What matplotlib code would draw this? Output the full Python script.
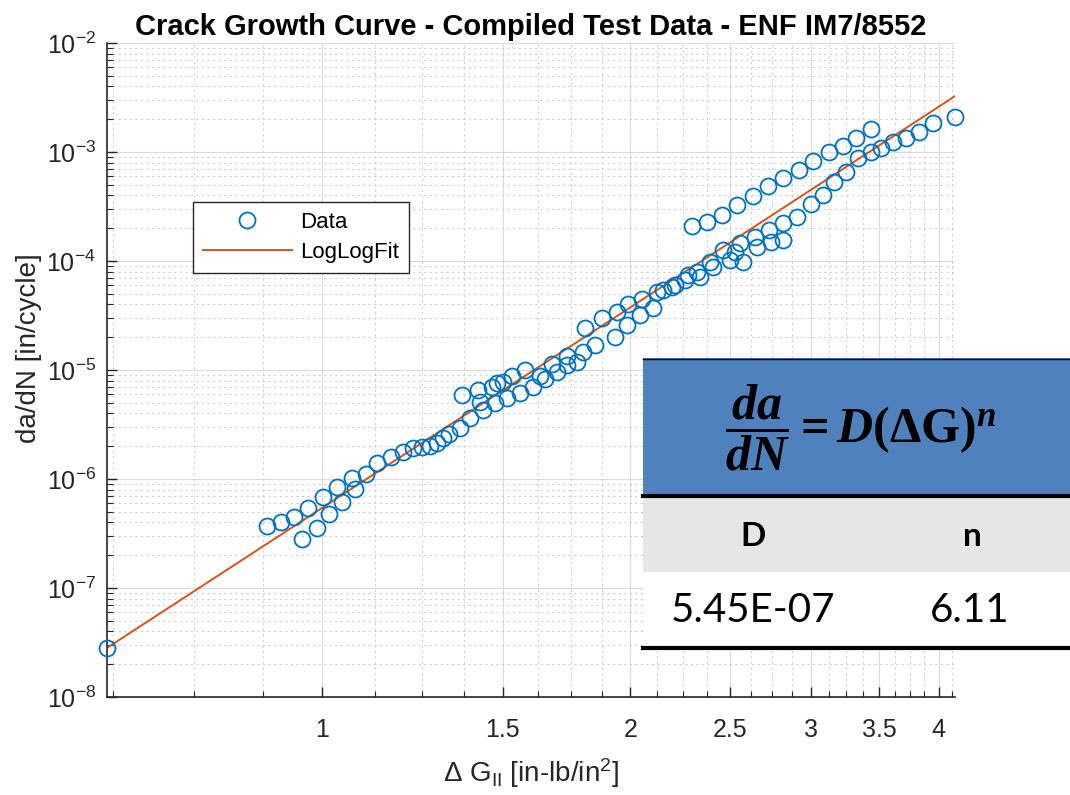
import numpy as np
import matplotlib
matplotlib.use("Agg")
import matplotlib.pyplot as plt
from matplotlib.ticker import FixedLocator, NullFormatter, LogLocator
from matplotlib.patches import Rectangle
from matplotlib.lines import Line2D

plt.rcParams['font.family'] = ['Liberation Sans', 'DejaVu Sans']
plt.rcParams['mathtext.default'] = 'regular'
# serif bold set used only by the equation in the results box
plt.rcParams['mathtext.rm'] = 'Liberation Serif:bold'
plt.rcParams['mathtext.it'] = 'Liberation Serif:italic:bold'
plt.rcParams['mathtext.bf'] = 'Liberation Serif:bold'

# compiled ENF test data: delta G_II [in-lb/in^2] vs da/dN [in/cycle]
dG = [0.616, 0.883, 0.912, 0.939, 0.956, 0.969, 0.987, 1.002, 1.014, 1.034,
      1.046, 1.068, 1.075, 1.102, 1.132, 1.168, 1.198, 1.225, 1.250, 1.273,
      1.293, 1.311, 1.331, 1.362, 1.393, 1.368, 1.419, 1.425, 1.434, 1.464,
      1.480, 1.501, 1.474, 1.514, 1.531, 1.559, 1.577, 1.606, 1.632, 1.650,
      1.676, 1.695, 1.734, 1.734, 1.774, 1.798, 1.806, 1.876, 1.847, 1.932,
      1.941, 1.985, 1.989, 2.045, 2.053, 2.105, 2.124, 2.153, 2.197, 2.212,
      2.262, 2.278, 2.324, 2.340, 2.393, 2.410, 2.465, 2.504, 2.532, 2.578,
      2.561, 2.649, 2.661, 2.729, 2.741, 2.817, 2.817, 2.912, 2.999, 3.082,
      3.159, 3.246, 3.334, 3.434, 3.513, 3.609, 3.715, 3.826, 3.949, 4.150,
      2.298, 2.377, 2.459, 2.544, 2.632, 2.722, 2.817, 2.919, 3.012, 3.124,
      3.223, 3.320, 3.434]
dadN = [2.82e-8, 3.71e-7, 4.04e-7, 4.48e-7, 2.82e-7, 5.42e-7, 3.55e-7, 6.84e-7, 4.78e-7, 8.45e-7,
        6.15e-7, 1.02e-6, 8.09e-7, 1.11e-6, 1.40e-6, 1.59e-6, 1.77e-6, 1.92e-6, 1.97e-6, 2.01e-6,
        2.14e-6, 2.38e-6, 2.59e-6, 2.94e-6, 3.63e-6, 5.90e-6, 6.56e-6, 5.08e-6, 4.30e-6, 6.98e-6,
        7.60e-6, 7.76e-6, 4.98e-6, 5.53e-6, 8.81e-6, 6.15e-6, 1.00e-5, 6.98e-6, 8.81e-6, 8.26e-6,
        1.14e-5, 9.59e-6, 1.11e-5, 1.34e-5, 1.18e-5, 1.46e-5, 2.43e-5, 3.00e-5, 1.69e-5, 2.01e-5,
        3.40e-5, 2.59e-5, 4.04e-5, 3.20e-5, 4.48e-5, 3.71e-5, 5.20e-5, 5.42e-5, 5.77e-5, 6.03e-5,
        6.70e-5, 7.45e-5, 7.93e-5, 7.13e-5, 9.79e-5, 8.81e-5, 1.26e-4, 1.02e-4, 1.21e-4, 9.79e-5,
        1.46e-4, 1.66e-4, 1.34e-4, 1.92e-4, 1.49e-4, 2.23e-4, 1.56e-4, 2.54e-4, 3.33e-4, 4.04e-4,
        5.31e-4, 6.56e-4, 8.81e-4, 1.00e-3, 1.09e-3, 1.24e-3, 1.34e-3, 1.52e-3, 1.85e-3, 2.09e-3,
        2.09e-4, 2.28e-4, 2.64e-4, 3.27e-4, 3.94e-4, 4.88e-4, 5.77e-4, 6.84e-4, 8.26e-4, 1.00e-3,
        1.14e-3, 1.34e-3, 1.63e-3]

# power law fit coefficients  da/dN = D * dG^n
D = 5.45e-07
n = 6.11

dG = np.array(dG)
dadN = np.array(dadN)
xfit = np.array([dG.min(), dG.max()])
yfit = D * xfit**n

fig = plt.figure(figsize=(10.7, 7.95), dpi=100)
ax = fig.add_axes([0.1, 0.1233, 0.7925, 0.8226])

ax.plot(dG, dadN, 'o', mfc='none', mec='#0072BD', ms=11.5, mew=1.3,
        label='Data', clip_on=False, zorder=3)
ax.plot(xfit, yfit, '-', color='#D95319', lw=1.4, label='LogLogFit', zorder=2)

ax.set_xscale('log')
ax.set_yscale('log')
ax.set_xlim(dG.min(), dG.max())
ax.set_ylim(1e-8, 1e-2)

xmajor = [1, 1.5, 2, 2.5, 3, 3.5, 4]
xminor = [v for v in np.arange(0.625, 4.2, 0.125) if v not in xmajor]
ax.xaxis.set_major_locator(FixedLocator(xmajor))
ax.xaxis.set_minor_locator(FixedLocator(xminor))
ax.set_xticklabels(['1', '1.5', '2', '2.5', '3', '3.5', '4'])
ax.xaxis.set_minor_formatter(NullFormatter())
ax.yaxis.set_major_locator(LogLocator(base=10, numticks=10))
ax.yaxis.set_minor_locator(LogLocator(base=10, subs=np.arange(2, 10), numticks=20))
ax.yaxis.set_minor_formatter(NullFormatter())

ax.grid(True, which='major', color='#dadada', lw=0.8, ls='-')
ax.grid(True, which='minor', color='#d0d0d0', lw=0.8, ls=(0, (2, 3)))
ax.set_axisbelow(True)

for s in ['top', 'right']:
    ax.spines[s].set_visible(False)
for s in ['left', 'bottom']:
    ax.spines[s].set_color('#262626')
    ax.spines[s].set_linewidth(1.2)
ax.tick_params(which='both', direction='in', colors='#262626', labelsize=18)
ax.tick_params(which='major', length=7, width=1.0)
ax.tick_params(which='minor', length=4, width=0.8)
ax.tick_params(axis='x', pad=15)
ax.tick_params(axis='y', pad=8)

ax.set_title('Crack Growth Curve - Compiled Test Data - ENF IM7/8552',
             fontsize=21, fontweight='bold', pad=6)
ax.set_xlabel(r'$\Delta$ G$_{II}$ [in-lb/in$^2$]', fontsize=20, color='#262626')
ax.xaxis.set_label_coords(0.5, -0.09)
ax.set_ylabel('da/dN [in/cycle]', fontsize=20, color='#262626')
ax.yaxis.set_label_coords(-0.077, 0.534)

leg = ax.legend(loc='upper left', bbox_to_anchor=(0.1014, 0.757), fontsize=16,
                frameon=True, fancybox=False, framealpha=1, edgecolor='#262626',
                handlelength=4.0, handletextpad=0.35, borderpad=0.45,
                labelspacing=0.4, borderaxespad=0)
leg.get_frame().set_linewidth(1.0)

# results box with fitted coefficients
def fy(py):
    return 1 - py / 795

x0 = 643 / 1070
fig.patches.append(Rectangle((x0, fy(496)), 1 - x0, fy(358) - fy(496),
                             transform=fig.transFigure, facecolor='#4F81BD',
                             edgecolor='none', zorder=5))
fig.patches.append(Rectangle((x0, fy(572)), 1 - x0, fy(497) - fy(572),
                             transform=fig.transFigure, facecolor='#E6E6E6',
                             edgecolor='none', zorder=5))
fig.patches.append(Rectangle((x0, fy(646)), 1 - x0, fy(572) - fy(646),
                             transform=fig.transFigure, facecolor='white',
                             edgecolor='none', zorder=5))
for py, lw in [(359, 1.0), (496, 3.0), (648, 3.0)]:
    fig.add_artist(Line2D([x0, 1], [fy(py), fy(py)], transform=fig.transFigure,
                          color='black', lw=lw, zorder=6))

fig.text(861 / 1070, fy(428),
         r'$\dfrac{\mathit{da}}{\mathit{dN}} = \mathit{D}(\Delta\mathrm{G})^{\mathit{n}}$',
         fontsize=36, family='Liberation Serif', fontweight='bold', math_fontfamily='custom',
         ha='center', va='center', zorder=7)
fig.text(753 / 1070, fy(537), 'D', fontsize=24, family='Lato', fontweight='bold',
         ha='center', va='center', zorder=7)
fig.text(972 / 1070, fy(537), 'n', fontsize=24, family='Lato', fontweight='bold',
         ha='center', va='center', zorder=7)
fig.text(753 / 1070, fy(610), f'{D:.2E}', fontsize=29, family='Lato',
         ha='center', va='center', zorder=7)
fig.text(970 / 1070, fy(610), f'{n:.2f}', fontsize=29, family='Lato',
         ha='center', va='center', zorder=7)

fig.savefig('out.png', dpi=100)
